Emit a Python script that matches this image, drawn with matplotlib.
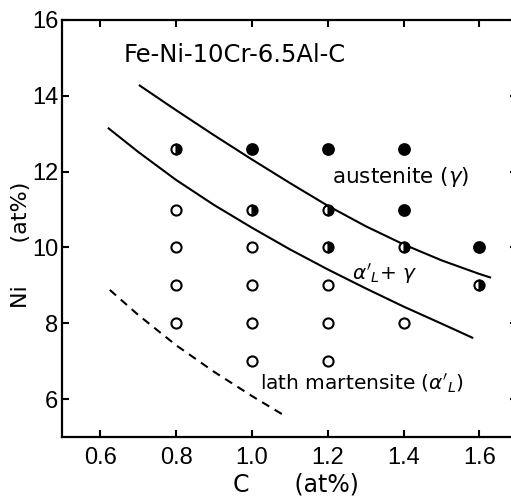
import matplotlib
matplotlib.use("Agg")
import matplotlib.pyplot as plt

plt.rcParams['font.family'] = ['DejaVu Sans']
plt.rcParams['mathtext.fontset'] = 'dejavusans'

# ---- data ----
open_C = [0.8, 0.8, 0.8, 0.8, 1.0, 1.0, 1.0, 1.0, 1.2, 1.2, 1.2, 1.4]
open_Ni = [11, 10, 9, 8, 10, 9, 8, 7, 9, 8, 7, 8]
half_C = [0.8, 1.0, 1.2, 1.2, 1.4, 1.6]
half_Ni = [12.6, 11, 11, 10, 10, 9]
full_C = [1.0, 1.2, 1.4, 1.4, 1.6]
full_Ni = [12.6, 12.6, 12.6, 11, 10]

upper_C = [0.704, 0.8, 0.9, 1.0, 1.1, 1.2, 1.3, 1.4, 1.5, 1.6, 1.628]
upper_Ni = [14.27, 13.62, 12.96, 12.32, 11.70, 11.10, 10.56, 10.08, 9.66, 9.30, 9.21]
lower_C = [0.622, 0.7, 0.8, 0.9, 1.0, 1.1, 1.2, 1.3, 1.4, 1.5, 1.581]
lower_Ni = [13.14, 12.52, 11.78, 11.12, 10.52, 9.95, 9.42, 8.92, 8.44, 7.99, 7.62]
dash_C = [0.625, 0.7, 0.8, 0.9, 1.0, 1.088]
dash_Ni = [8.88, 8.22, 7.42, 6.72, 6.08, 5.55]

xticks = [0.6, 0.8, 1.0, 1.2, 1.4, 1.6]
xticklabels = ['0.6', '0.8', '1.0', '1.2', '1.4', '1.6']
yticks = [6, 8, 10, 12, 14, 16]
yticklabels = ['6', '8', '10', '12', '14', '16']

fig = plt.figure(figsize=(5.11, 4.97), dpi=100)
ax = fig.add_axes([62.4 / 511, 60 / 497, 455 / 511, 417 / 497])
ax.set_xlim(0.5, 1.7)
ax.set_ylim(5, 16)

lw = 1.5
ax.plot(upper_C, upper_Ni, color='black', lw=lw, solid_joinstyle='round')
ax.plot(lower_C, lower_Ni, color='black', lw=lw, solid_joinstyle='round')
ax.plot(dash_C, dash_Ni, color='black', lw=lw, linestyle=(0, (4, 3)))

ms = 7.3
mew = 1.5
ax.plot(open_C, open_Ni, 'o', ms=ms, mew=mew, mfc='white', mec='black', ls='none')
ax.plot(half_C, half_Ni, 'o', ms=ms, mew=mew, mfc='black', mfcalt='white',
        fillstyle='right', mec='black', ls='none')
ax.plot(full_C, full_Ni, 'o', ms=ms + 0.4, mew=mew, mfc='black', mec='black', ls='none')

ax.text(0.6625, 15.08, 'Fe-Ni-10Cr-6.5Al-C', fontsize=17.5, ha='left', va='center')
ax.text(1.2106, 11.87, r'austenite ($\gamma$)', fontsize=15.5, ha='left', va='center')
ax.text(1.263, 9.30, r"$\alpha'_L$+ $\gamma$", fontsize=14.5, ha='left', va='center')
ax.text(1.021, 6.42, r"lath martensite ($\alpha'_L$)", fontsize=14.5, ha='left', va='center')

ax.set_xticks(xticks)
ax.set_xticklabels(xticklabels, family='Liberation Sans', fontsize=17)
ax.set_yticks(yticks)
ax.set_yticklabels(yticklabels, family='Liberation Sans', fontsize=17)
ax.tick_params(axis='x', direction='in', length=5, width=1.5, pad=7, top=True)
ax.tick_params(axis='y', direction='in', length=5, width=1.5, pad=3, right=True)
for s in ax.spines.values():
    s.set_linewidth(1.6)

ax.set_xlabel('C      (at%)', fontsize=17)
ax.xaxis.label.set_va('center')
ax.xaxis.set_label_coords(0.514, -0.115)
ax.set_ylabel('Ni      (at%)', fontsize=16)
ax.yaxis.label.set_va('center')
ax.yaxis.set_label_coords(-0.091, 0.46)

fig.savefig('out.png', dpi=100)
